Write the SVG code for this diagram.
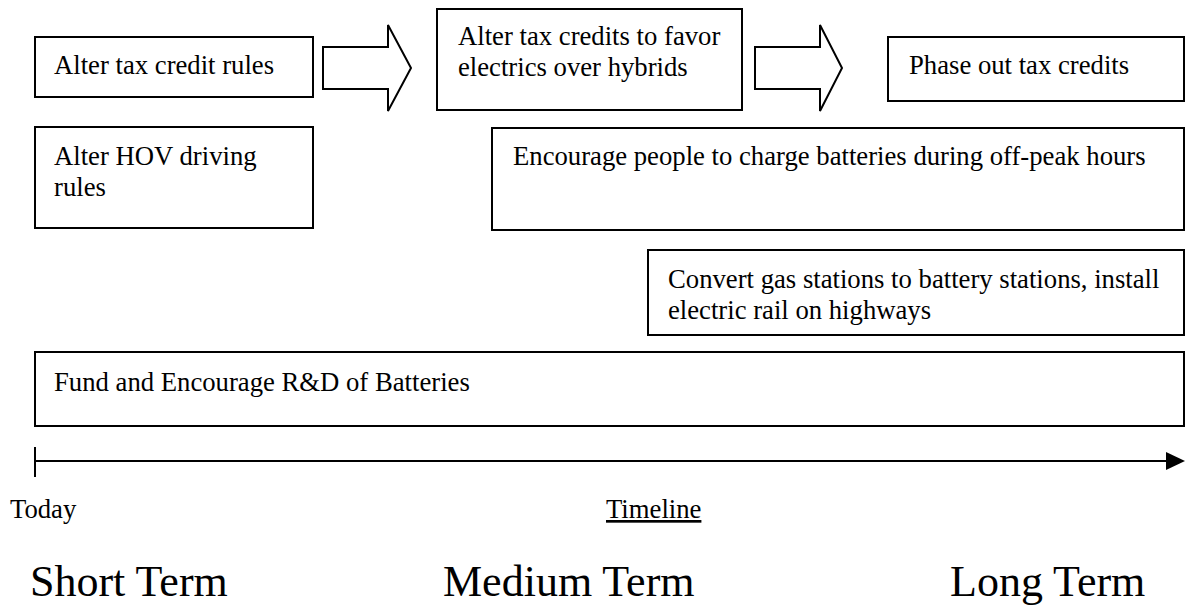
<svg xmlns="http://www.w3.org/2000/svg" width="1186" height="607" viewBox="0 0 1186 607">
<style>
.box{fill:#fff;stroke:#000;stroke-width:2}
.arw{fill:#fff;stroke:#000;stroke-width:2;stroke-linejoin:miter}
.t{font-family:"Liberation Serif","Times New Roman",serif;font-size:26.7px;fill:#000}
.big{font-family:"Liberation Serif","Times New Roman",serif;font-size:44px;fill:#000}
</style>
<rect width="1186" height="607" fill="#fff"/>
<g id="connectors">
<polygon class="arw" points="323,47 388,47 388,25 411,68 388,111 388,89 323,89"/>
<polygon class="arw" points="755,47 820,47 820,25 842,68 820,111 820,89 755,89"/>
<line x1="35" y1="461" x2="1168" y2="461" stroke="#000" stroke-width="2"/>
<line x1="35" y1="447" x2="35" y2="477" stroke="#000" stroke-width="2"/>
<polygon points="1166,452 1185,461 1166,470" fill="#000"/>
</g>
<g id="n1"><rect class="box" x="35" y="37" width="278" height="60"/><text class="t" x="54" y="74">Alter tax credit rules</text></g>
<g id="n2"><rect class="box" x="437" y="9" width="305" height="101"/><text class="t" x="458" y="45">Alter tax credits to favor</text><text class="t" x="458" y="76">electrics over hybrids</text></g>
<g id="n3"><rect class="box" x="888" y="37" width="296" height="64"/><text class="t" x="909" y="74">Phase out tax credits</text></g>
<g id="n4"><rect class="box" x="35" y="127" width="278" height="101"/><text class="t" x="54" y="165">Alter HOV driving</text><text class="t" x="54" y="196">rules</text></g>
<g id="n5"><rect class="box" x="492" y="128" width="692" height="102"/><text class="t" x="513" y="165">Encourage people to charge batteries during off-peak hours</text></g>
<g id="n6"><rect class="box" x="648" y="250" width="536" height="85"/><text class="t" x="668" y="288">Convert gas stations to battery stations, install</text><text class="t" x="668" y="319">electric rail on highways</text></g>
<g id="n7"><rect class="box" x="35" y="352" width="1149" height="74"/><text class="t" x="54" y="391">Fund and Encourage R&amp;D of Batteries</text></g>
<g id="labels">
<text class="t" x="10" y="518">Today</text>
<text class="t" x="606" y="518" text-decoration="underline">Timeline</text>
<text class="big" x="30" y="596">Short Term</text>
<text class="big" x="443" y="596">Medium Term</text>
<text class="big" x="950" y="596">Long Term</text>
</g>
</svg>
